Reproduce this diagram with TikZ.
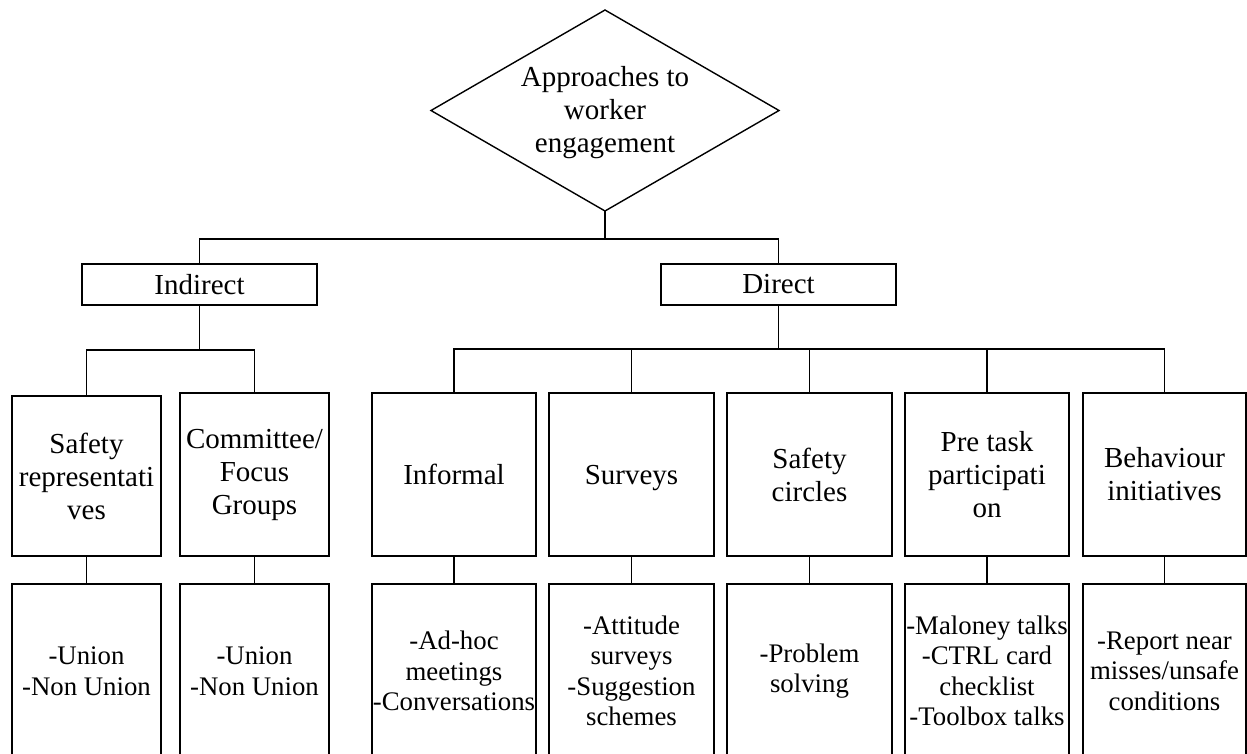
\documentclass[tikz,border=0pt]{standalone}
\usepackage{fontspec}
\setmainfont{Liberation Serif}
\begin{document}
\begin{tikzpicture}[x=1pt,y=-1pt,
  line width=1.6pt,
  topfont/.style={font=\fontsize{29}{33}\selectfont},
  subfont/.style={font=\fontsize{26.8}{30.5}\selectfont},
  box/.style={draw, rectangle, align=center, inner sep=0pt, topfont},
  subbox/.style={draw, rectangle, align=center, inner sep=0pt, subfont,
                 minimum height=174pt},
  link/.style={draw, line width=1.6pt}]
\useasboundingbox (0,0) rectangle (1247,753);
\clip (0,0) rectangle (1247,753);

% root: diamond outline with its label
\coordinate (rootN) at (605,10);
\coordinate (rootE) at (779,110.5);
\coordinate (rootS) at (605,211);
\coordinate (rootW) at (431,110.5);
\draw[line width=1.4pt] (rootN) -- (rootE) -- (rootS) -- (rootW) -- cycle;
\node[align=center, inner sep=0pt, topfont] (root) at (605,113) {Approaches to\\worker\\engagement};

% two main approaches
\node[box, minimum width=235pt, minimum height=41pt] (ind) at (199.5,284.5) {Indirect};
\node[box, minimum width=235pt, minimum height=41pt] (dir) at (778.5,284.5) {Direct};

% categories
\node[box, minimum width=149pt, minimum height=160pt] (safe) at (86.5,476) {Safety\\representati\\ves};
\node[box, minimum width=149pt, minimum height=163pt] (comm) at (254.5,474.5) {Committee/\\Focus\\Groups};
\node[box, minimum width=164pt, minimum height=163pt] (inf)  at (454,474.5) {Informal};
\node[box, minimum width=165pt, minimum height=163pt, text depth=0pt] (surv) at (631.5,474.5) {Surveys};
\node[box, minimum width=165pt, minimum height=163pt] (circ) at (809.5,474.5) {Safety\\circles};
\node[box, minimum width=164pt, minimum height=163pt] (pre)  at (987,474.5) {Pre task\\participati\\on};
\node[box, minimum width=163pt, minimum height=163pt] (beh)  at (1164.5,474.5) {Behaviour\\initiatives};

% examples
\node[subbox, minimum width=149pt] (safeL) at (86.5,671) {-Union\\-Non Union};
\node[subbox, minimum width=149pt] (commL) at (254.5,671) {-Union\\-Non Union};
\node[subbox, minimum width=164pt] (infL)  at (454,671) {-Ad-hoc\\meetings\\-Conversations};
\node[subbox, minimum width=165pt] (survL) at (631.5,671) {-Attitude\\surveys\\-Suggestion\\schemes};
\node[subbox, minimum width=165pt] (circL) at (809.5,671) {-Problem\\solving};
\node[subbox, minimum width=164pt] (preL)  at (987,671) {-Maloney talks\\-CTRL card\\checklist\\-Toolbox talks};
\node[subbox, minimum width=163pt] (behL)  at (1164.5,671) {-Report near\\misses/unsafe\\conditions};

% junctions
\coordinate (j0) at (rootS |- 0,239);
\coordinate (j1) at (ind.south |- 0,350);
\coordinate (j2) at (dir.south |- 0,349);

% connectors
\path[link] (rootS) -- (j0);
\path[link] (ind.north) |- (j0) -| (dir.north);
\path[link] (ind.south) -- (j1);
\path[link] (safe.north) |- (j1) -| (comm.north);
\path[link] (dir.south) -- (j2);
\path[link] (inf.north) |- (j2) -| (beh.north);
\path[link] (surv.north) -- (surv.north |- j2);
\path[link] (circ.north) -- (circ.north |- j2);
\path[link] (pre.north) -- (pre.north |- j2);

\path[link] (safe.south) -- (safeL.north);
\path[link] (comm.south) -- (commL.north);
\path[link] (inf.south) -- (infL.north);
\path[link] (surv.south) -- (survL.north);
\path[link] (circ.south) -- (circL.north);
\path[link] (pre.south) -- (preL.north);
\path[link] (beh.south) -- (behL.north);
\end{tikzpicture}
\end{document}
